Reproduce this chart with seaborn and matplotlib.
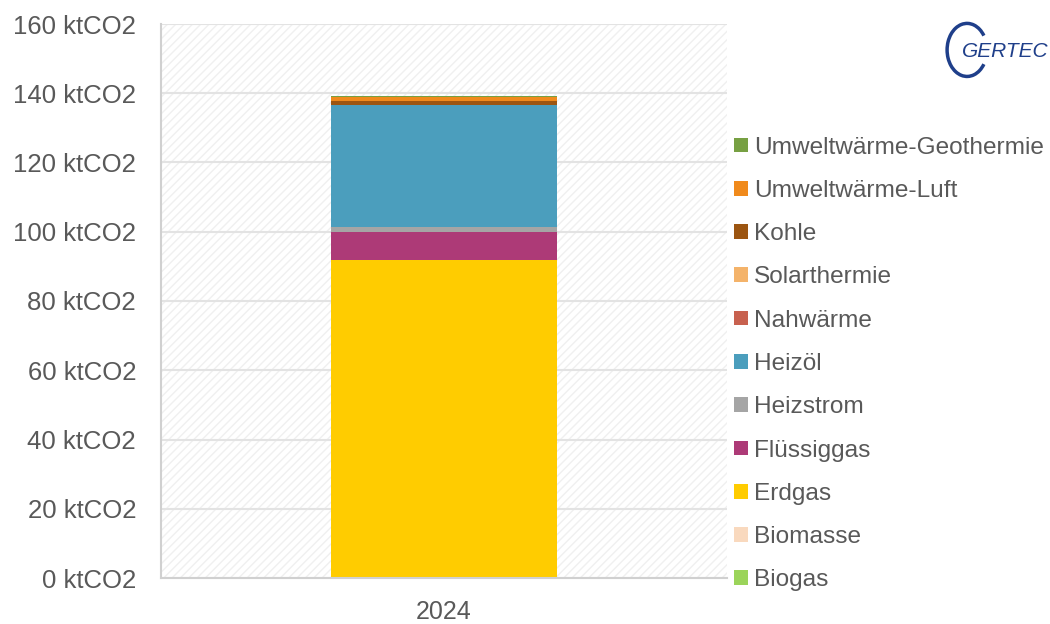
import numpy as np
import pandas as pd
import matplotlib.pyplot as plt
import seaborn as sns
from matplotlib.patches import Rectangle, Patch, Arc

# emissions 2024 by energy carrier (kt CO2), bottom -> top of the stack
carriers = ['Biogas', 'Biomasse', 'Erdgas', 'Flüssiggas', 'Heizstrom', 'Heizöl',
            'Nahwärme', 'Solarthermie', 'Kohle', 'Umweltwärme-Luft',
            'Umweltwärme-Geothermie']
values = [0.0, 0.0, 91.8, 8.1, 1.5, 35.3, 0.0, 0.0, 1.2, 1.1, 0.3]
colors = ['#9BD45A', '#F9D9BE', '#FFCC00', '#AD3A77', '#A5A5A5', '#4B9EBD',
          '#C8614F', '#F4B36A', '#9C5511', '#F08A1C', '#77A043']
year = ['2024']
yticks = [0, 20, 40, 60, 80, 100, 120, 140, 160]

df = pd.DataFrame({'carrier': carriers, 'value': values, 'color': colors})
df['cum'] = df['value'].cumsum()
df['year'] = year[0]

sns.set_style('white')
plt.rcParams['font.family'] = ['Liberation Sans', 'DejaVu Sans']
txt = '#595959'

fig = plt.figure(figsize=(10.5, 6.24), dpi=100)
ax = fig.add_axes([161 / 1050, 1 - 578 / 624, (727 - 161) / 1050, (578 - 24) / 624])

# hatched plot area
ax.add_patch(Rectangle((0, 0), 1, 1, transform=ax.transAxes, facecolor='white',
                       edgecolor='#F0F0F0', hatch='////', lw=0, zorder=0))
for v in yticks:
    ax.axhline(v, color='#E3E3E3', lw=1.5, zorder=0.5)

# stacked bar: draw cumulative totals from top down
for _, row in df.iloc[::-1].iterrows():
    sns.barplot(data=df[df['carrier'] == row['carrier']].assign(cum=row['cum']),
                x='year', y='cum', color=row['color'], width=0.4,
                saturation=1, linewidth=0, ax=ax, zorder=2)

ax.set_xlim(-0.5, 0.5)
ax.set_ylim(0, 160)
ax.set_yticks(yticks)
ax.set_yticklabels([f'{v} ktCO2' for v in yticks], fontsize=18.5, color=txt)
ax.set_xticks([0])
ax.set_xticklabels(year, fontsize=18, color=txt)
ax.set_xticks([-0.5, 0.5], minor=True)
ax.tick_params(axis='x', which='major', length=0, pad=16)
ax.tick_params(axis='x', which='minor', length=7, color='#D0D0D0', width=1.5)
ax.tick_params(axis='y', length=8, color='#D0D0D0', width=1.5, pad=10)
ax.set_xlabel('')
ax.set_ylabel('')
for s in ['top', 'right']:
    ax.spines[s].set_visible(False)
for s in ['left', 'bottom']:
    ax.spines[s].set_color('#D0D0D0')
    ax.spines[s].set_linewidth(1.5)

handles = [Patch(facecolor=c, edgecolor='none') for c in colors[::-1]]
fig.legend(handles, carriers[::-1], loc='upper left', bbox_to_anchor=(0.6995, 0.781),
           frameon=False, fontsize=17.6, labelcolor=txt, handlelength=0.55,
           handleheight=0.55, handletextpad=0.25, labelspacing=0.87,
           borderaxespad=0, borderpad=0)

# GERTEC logo
fig.text(0.957, 0.918, 'GERTEC', fontsize=15, style='italic', color='#1F3F8A',
         ha='center', va='center')
fig.add_artist(Arc((0.921, 0.92), 0.038, 0.085, theta1=55, theta2=305,
                   transform=fig.transFigure, color='#1F3F8A', lw=2.5))

fig.savefig('out.png', dpi=100)
